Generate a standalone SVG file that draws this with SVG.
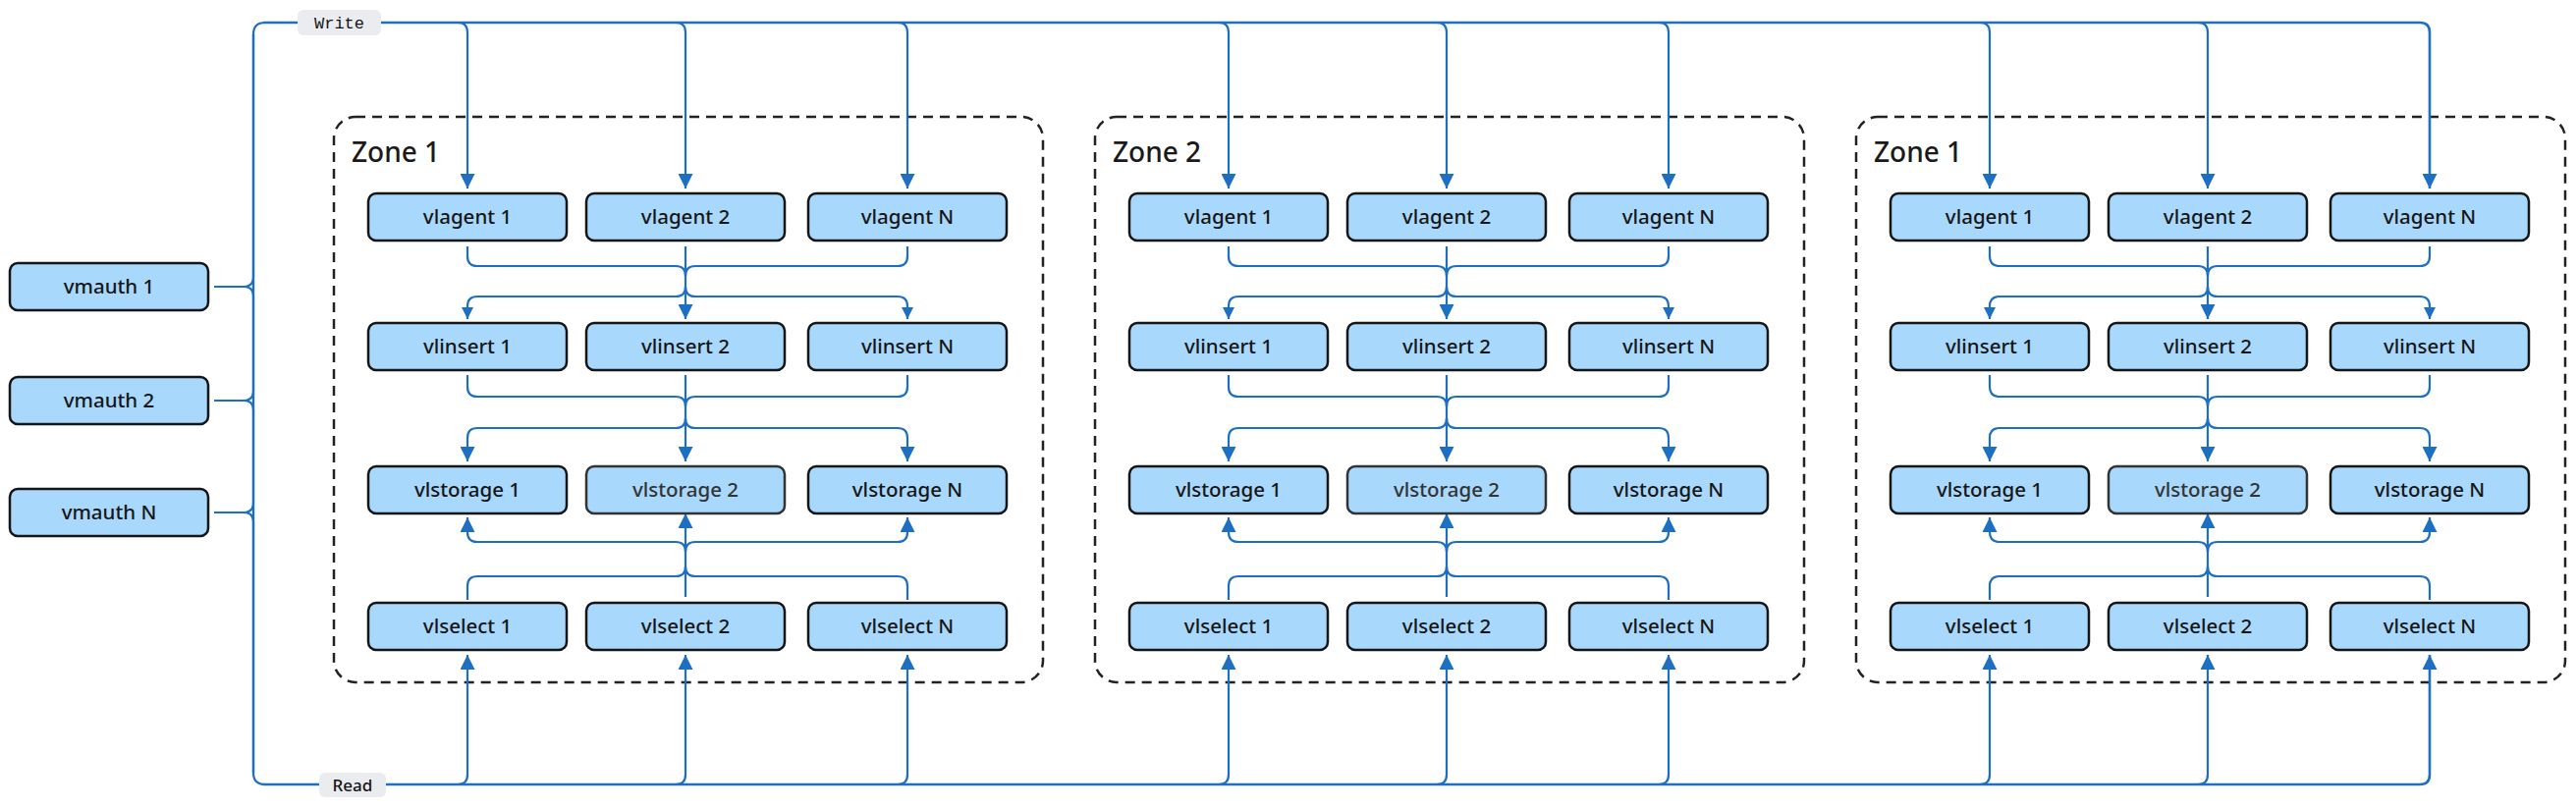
<svg xmlns="http://www.w3.org/2000/svg" width="2623" height="823" viewBox="0 0 2623 823">
<style>
.node rect{fill:#a8d8fc;stroke:#151515;stroke-width:2.5}
.node text{font-family:"Noto Sans","Liberation Sans",sans-serif;font-size:20.5px;font-weight:500;fill:#161616;text-anchor:middle}
.zone rect{fill:none;stroke:#222;stroke-width:2.5;stroke-dasharray:10 7}
.zone text{font-family:"Noto Sans","Liberation Sans",sans-serif;font-size:28px;font-weight:500;fill:#1a1a1a}
.c path{fill:none;stroke:#1d6fc4;stroke-width:2.2}
.c path.main{stroke-width:2.6}
.lbl rect{fill:#eaecef}
.lbl text{fill:#151515;text-anchor:middle}
</style>
<defs>
<marker id="ab" viewBox="0 0 15 15" markerWidth="15" markerHeight="15" refX="15" refY="7.5" orient="auto" markerUnits="userSpaceOnUse"><path d="M0,0 L15,7.5 L0,15 z" fill="#1d6fc4"/></marker>
<marker id="as" viewBox="0 0 12 12" markerWidth="12" markerHeight="12" refX="12" refY="6" orient="auto" markerUnits="userSpaceOnUse"><path d="M0,0 L12,6 L0,12 z" fill="#1d6fc4"/></marker>
</defs>
<rect width="2623" height="823" fill="#ffffff"/>

<g id="zones">
<g id="zone-a" class="zone"><rect x="340" y="119" width="722" height="576" rx="22"/><text x="358" y="165">Zone 1</text></g>
<g id="zone-b" class="zone"><rect x="1115" y="119" width="722" height="576" rx="22"/><text x="1133" y="165">Zone 2</text></g>
<g id="zone-c" class="zone"><rect x="1890" y="119" width="722" height="576" rx="22"/><text x="1908" y="165">Zone 1</text></g>
</g>

<g id="connectors" class="c">
<!-- bus from vmauth -->
<path d="M218,292 H248 Q258,292 258,282 V35 Q258,23 270,23"/>
<path d="M218,292 H248 Q258,292 258,302 V787 Q258,799 270,799"/>
<path d="M218,408 H248 Q258,408 258,398 V35"/>
<path d="M218,408 H248 Q258,408 258,418 V787"/>
<path d="M218,522 H248 Q258,522 258,512 V35"/>
<path d="M218,522 H248 Q258,522 258,532 V787"/>
<!-- write -->
<path class="main" d="M268,23 H2464 Q2474,23 2474,33 V192" marker-end="url(#ab)"/>
<path d="M466,23 Q476,23 476,33 V192" marker-end="url(#ab)"/>
<path d="M688,23 Q698,23 698,33 V192" marker-end="url(#ab)"/>
<path d="M914,23 Q924,23 924,33 V192" marker-end="url(#ab)"/>
<path d="M1241,23 Q1251,23 1251,33 V192" marker-end="url(#ab)"/>
<path d="M1463,23 Q1473,23 1473,33 V192" marker-end="url(#ab)"/>
<path d="M1689,23 Q1699,23 1699,33 V192" marker-end="url(#ab)"/>
<path d="M2016,23 Q2026,23 2026,33 V192" marker-end="url(#ab)"/>
<path d="M2238,23 Q2248,23 2248,33 V192" marker-end="url(#ab)"/>
<!-- read -->
<path class="main" d="M268,799 H2464 Q2474,799 2474,789 V667" marker-end="url(#ab)"/>
<path d="M466,799 Q476,799 476,789 V667" marker-end="url(#ab)"/>
<path d="M688,799 Q698,799 698,789 V667" marker-end="url(#ab)"/>
<path d="M914,799 Q924,799 924,789 V667" marker-end="url(#ab)"/>
<path d="M1241,799 Q1251,799 1251,789 V667" marker-end="url(#ab)"/>
<path d="M1463,799 Q1473,799 1473,789 V667" marker-end="url(#ab)"/>
<path d="M1689,799 Q1699,799 1699,789 V667" marker-end="url(#ab)"/>
<path d="M2016,799 Q2026,799 2026,789 V667" marker-end="url(#ab)"/>
<path d="M2238,799 Q2248,799 2248,789 V667" marker-end="url(#ab)"/>
<!-- zone internal -->
<g id="conn-zone-a">
<path d="M476,251 V261 Q476,271 486,271 H688 Q698,271 698,281"/>
<path d="M924,251 V261 Q924,271 914,271 H708 Q698,271 698,281"/>
<path d="M698,251 V325" marker-end="url(#ab)"/>
<path d="M698,292 Q698,302 688,302 H486 Q476,302 476,312 V325" marker-end="url(#as)"/>
<path d="M698,292 Q698,302 708,302 H914 Q924,302 924,312 V325" marker-end="url(#as)"/>
<path d="M476,382 V394 Q476,404 486,404 H688 Q698,404 698,414"/>
<path d="M924,382 V394 Q924,404 914,404 H708 Q698,404 698,414"/>
<path d="M698,382 V470" marker-end="url(#ab)"/>
<path d="M698,426 Q698,436 688,436 H486 Q476,436 476,446 V470" marker-end="url(#ab)"/>
<path d="M698,426 Q698,436 708,436 H914 Q924,436 924,446 V470" marker-end="url(#ab)"/>
<path d="M476,611 V597 Q476,587 486,587 H688 Q698,587 698,577"/>
<path d="M924,611 V597 Q924,587 914,587 H708 Q698,587 698,577"/>
<path d="M698,608 V523" marker-end="url(#ab)"/>
<path d="M698,562 Q698,552 688,552 H486 Q476,552 476,542 V527" marker-end="url(#ab)"/>
<path d="M698,562 Q698,552 708,552 H914 Q924,552 924,542 V527" marker-end="url(#ab)"/>
</g>
<g id="conn-zone-b" transform="translate(775,0)">
<path d="M476,251 V261 Q476,271 486,271 H688 Q698,271 698,281"/>
<path d="M924,251 V261 Q924,271 914,271 H708 Q698,271 698,281"/>
<path d="M698,251 V325" marker-end="url(#ab)"/>
<path d="M698,292 Q698,302 688,302 H486 Q476,302 476,312 V325" marker-end="url(#as)"/>
<path d="M698,292 Q698,302 708,302 H914 Q924,302 924,312 V325" marker-end="url(#as)"/>
<path d="M476,382 V394 Q476,404 486,404 H688 Q698,404 698,414"/>
<path d="M924,382 V394 Q924,404 914,404 H708 Q698,404 698,414"/>
<path d="M698,382 V470" marker-end="url(#ab)"/>
<path d="M698,426 Q698,436 688,436 H486 Q476,436 476,446 V470" marker-end="url(#ab)"/>
<path d="M698,426 Q698,436 708,436 H914 Q924,436 924,446 V470" marker-end="url(#ab)"/>
<path d="M476,611 V597 Q476,587 486,587 H688 Q698,587 698,577"/>
<path d="M924,611 V597 Q924,587 914,587 H708 Q698,587 698,577"/>
<path d="M698,608 V523" marker-end="url(#ab)"/>
<path d="M698,562 Q698,552 688,552 H486 Q476,552 476,542 V527" marker-end="url(#ab)"/>
<path d="M698,562 Q698,552 708,552 H914 Q924,552 924,542 V527" marker-end="url(#ab)"/>
</g>
<g id="conn-zone-c" transform="translate(1550,0)">
<path d="M476,251 V261 Q476,271 486,271 H688 Q698,271 698,281"/>
<path d="M924,251 V261 Q924,271 914,271 H708 Q698,271 698,281"/>
<path d="M698,251 V325" marker-end="url(#ab)"/>
<path d="M698,292 Q698,302 688,302 H486 Q476,302 476,312 V325" marker-end="url(#as)"/>
<path d="M698,292 Q698,302 708,302 H914 Q924,302 924,312 V325" marker-end="url(#as)"/>
<path d="M476,382 V394 Q476,404 486,404 H688 Q698,404 698,414"/>
<path d="M924,382 V394 Q924,404 914,404 H708 Q698,404 698,414"/>
<path d="M698,382 V470" marker-end="url(#ab)"/>
<path d="M698,426 Q698,436 688,436 H486 Q476,436 476,446 V470" marker-end="url(#ab)"/>
<path d="M698,426 Q698,436 708,436 H914 Q924,436 924,446 V470" marker-end="url(#ab)"/>
<path d="M476,611 V597 Q476,587 486,587 H688 Q698,587 698,577"/>
<path d="M924,611 V597 Q924,587 914,587 H708 Q698,587 698,577"/>
<path d="M698,608 V523" marker-end="url(#ab)"/>
<path d="M698,562 Q698,552 688,552 H486 Q476,552 476,542 V527" marker-end="url(#ab)"/>
<path d="M698,562 Q698,552 708,552 H914 Q924,552 924,542 V527" marker-end="url(#ab)"/>
</g>
</g>

<g id="labels" class="lbl">
<g id="label-write"><rect x="303" y="10" width="85" height="26" rx="6"/><text x="345.5" y="29" style="font-family:'Liberation Mono','DejaVu Sans Mono',monospace;font-size:17px">Write</text></g>
<g id="label-read"><rect x="325" y="787" width="68" height="25" rx="6"/><text x="359" y="806" style="font-family:'Noto Sans','Liberation Sans',sans-serif;font-size:17px;font-weight:500">Read</text></g>
</g>

<g id="vmauth-1" class="node" transform="translate(10,268)"><rect width="202" height="48" rx="8"/><text x="101" y="31">vmauth 1</text></g>
<g id="vmauth-2" class="node" transform="translate(10,384)"><rect width="202" height="48" rx="8"/><text x="101" y="31">vmauth 2</text></g>
<g id="vmauth-n" class="node" transform="translate(10,498)"><rect width="202" height="48" rx="8"/><text x="101" y="31">vmauth N</text></g>

<g id="a-vlagent-1" class="node" transform="translate(375,197)"><rect width="202" height="48" rx="8"/><text x="101" y="31">vlagent 1</text></g>
<g id="a-vlagent-2" class="node" transform="translate(597,197)"><rect width="202" height="48" rx="8"/><text x="101" y="31">vlagent 2</text></g>
<g id="a-vlagent-n" class="node" transform="translate(823,197)"><rect width="202" height="48" rx="8"/><text x="101" y="31">vlagent N</text></g>
<g id="a-vlinsert-1" class="node" transform="translate(375,329)"><rect width="202" height="48" rx="8"/><text x="101" y="31">vlinsert 1</text></g>
<g id="a-vlinsert-2" class="node" transform="translate(597,329)"><rect width="202" height="48" rx="8"/><text x="101" y="31">vlinsert 2</text></g>
<g id="a-vlinsert-n" class="node" transform="translate(823,329)"><rect width="202" height="48" rx="8"/><text x="101" y="31">vlinsert N</text></g>
<g id="a-vlstorage-1" class="node" transform="translate(375,475)"><rect width="202" height="48" rx="8"/><text x="101" y="31">vlstorage 1</text></g>
<g id="a-vlstorage-2" class="node" transform="translate(597,475)"><rect width="202" height="48" rx="8" style="stroke:#333"/><text x="101" y="31" style="fill:#333">vlstorage 2</text></g>
<g id="a-vlstorage-n" class="node" transform="translate(823,475)"><rect width="202" height="48" rx="8"/><text x="101" y="31">vlstorage N</text></g>
<g id="a-vlselect-1" class="node" transform="translate(375,614)"><rect width="202" height="48" rx="8"/><text x="101" y="31">vlselect 1</text></g>
<g id="a-vlselect-2" class="node" transform="translate(597,614)"><rect width="202" height="48" rx="8"/><text x="101" y="31">vlselect 2</text></g>
<g id="a-vlselect-n" class="node" transform="translate(823,614)"><rect width="202" height="48" rx="8"/><text x="101" y="31">vlselect N</text></g>

<g id="b-vlagent-1" class="node" transform="translate(1150,197)"><rect width="202" height="48" rx="8"/><text x="101" y="31">vlagent 1</text></g>
<g id="b-vlagent-2" class="node" transform="translate(1372,197)"><rect width="202" height="48" rx="8"/><text x="101" y="31">vlagent 2</text></g>
<g id="b-vlagent-n" class="node" transform="translate(1598,197)"><rect width="202" height="48" rx="8"/><text x="101" y="31">vlagent N</text></g>
<g id="b-vlinsert-1" class="node" transform="translate(1150,329)"><rect width="202" height="48" rx="8"/><text x="101" y="31">vlinsert 1</text></g>
<g id="b-vlinsert-2" class="node" transform="translate(1372,329)"><rect width="202" height="48" rx="8"/><text x="101" y="31">vlinsert 2</text></g>
<g id="b-vlinsert-n" class="node" transform="translate(1598,329)"><rect width="202" height="48" rx="8"/><text x="101" y="31">vlinsert N</text></g>
<g id="b-vlstorage-1" class="node" transform="translate(1150,475)"><rect width="202" height="48" rx="8"/><text x="101" y="31">vlstorage 1</text></g>
<g id="b-vlstorage-2" class="node" transform="translate(1372,475)"><rect width="202" height="48" rx="8" style="stroke:#333"/><text x="101" y="31" style="fill:#333">vlstorage 2</text></g>
<g id="b-vlstorage-n" class="node" transform="translate(1598,475)"><rect width="202" height="48" rx="8"/><text x="101" y="31">vlstorage N</text></g>
<g id="b-vlselect-1" class="node" transform="translate(1150,614)"><rect width="202" height="48" rx="8"/><text x="101" y="31">vlselect 1</text></g>
<g id="b-vlselect-2" class="node" transform="translate(1372,614)"><rect width="202" height="48" rx="8"/><text x="101" y="31">vlselect 2</text></g>
<g id="b-vlselect-n" class="node" transform="translate(1598,614)"><rect width="202" height="48" rx="8"/><text x="101" y="31">vlselect N</text></g>

<g id="c-vlagent-1" class="node" transform="translate(1925,197)"><rect width="202" height="48" rx="8"/><text x="101" y="31">vlagent 1</text></g>
<g id="c-vlagent-2" class="node" transform="translate(2147,197)"><rect width="202" height="48" rx="8"/><text x="101" y="31">vlagent 2</text></g>
<g id="c-vlagent-n" class="node" transform="translate(2373,197)"><rect width="202" height="48" rx="8"/><text x="101" y="31">vlagent N</text></g>
<g id="c-vlinsert-1" class="node" transform="translate(1925,329)"><rect width="202" height="48" rx="8"/><text x="101" y="31">vlinsert 1</text></g>
<g id="c-vlinsert-2" class="node" transform="translate(2147,329)"><rect width="202" height="48" rx="8"/><text x="101" y="31">vlinsert 2</text></g>
<g id="c-vlinsert-n" class="node" transform="translate(2373,329)"><rect width="202" height="48" rx="8"/><text x="101" y="31">vlinsert N</text></g>
<g id="c-vlstorage-1" class="node" transform="translate(1925,475)"><rect width="202" height="48" rx="8"/><text x="101" y="31">vlstorage 1</text></g>
<g id="c-vlstorage-2" class="node" transform="translate(2147,475)"><rect width="202" height="48" rx="8" style="stroke:#333"/><text x="101" y="31" style="fill:#333">vlstorage 2</text></g>
<g id="c-vlstorage-n" class="node" transform="translate(2373,475)"><rect width="202" height="48" rx="8"/><text x="101" y="31">vlstorage N</text></g>
<g id="c-vlselect-1" class="node" transform="translate(1925,614)"><rect width="202" height="48" rx="8"/><text x="101" y="31">vlselect 1</text></g>
<g id="c-vlselect-2" class="node" transform="translate(2147,614)"><rect width="202" height="48" rx="8"/><text x="101" y="31">vlselect 2</text></g>
<g id="c-vlselect-n" class="node" transform="translate(2373,614)"><rect width="202" height="48" rx="8"/><text x="101" y="31">vlselect N</text></g>
</svg>
